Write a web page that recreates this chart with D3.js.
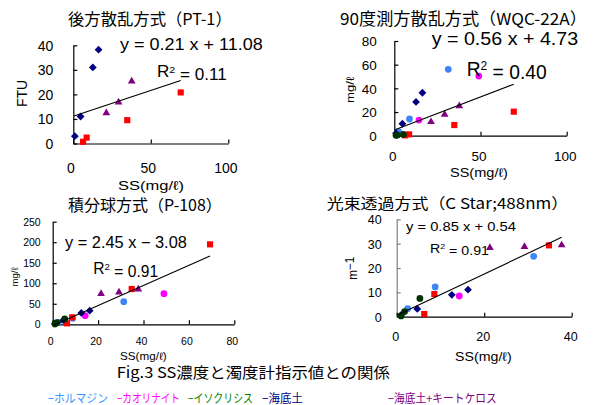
<!DOCTYPE html>
<html><head><meta charset="utf-8">
<script src="https://cdn.jsdelivr.net/npm/d3@7"></script>
<style>body{margin:0;background:#fff}svg{display:block}</style>
</head><body><svg id="c" width="596" height="405"></svg>
<script>
// ---------------- data ----------------
const panelTitles = ["後方散乱方式（PT-1）", "90度測方散乱方式（WQC-22A）", "積分球方式（P-108）", "光束透過方式（C Star;488nm）"];
const yAxisTitles = ["FTU", "mg/ℓ", "mg/ℓ", "m"];
const xAxisTitle = "SS(mg/ℓ)";
const xTickValues = [[0, 50, 100], [0, 50, 100], [0, 20, 40, 60, 80], [0, 20, 40]];
const yTickValues = [[0, 10, 20, 30, 40], [0, 20, 40, 60, 80], [0, 50, 100, 150, 200, 250], [0, 10, 20, 30, 40]];
const trendSlope = [0.21, 0.56, 2.45, 0.85];
const trendIntercept = [11.08, 4.73, -3.08, 0.54];
const trendEquations = ["y = 0.21 x + 11.08", "y = 0.56 x + 4.73", "y = 2.45 x − 3.08", "y = 0.85 x + 0.54"];
const rSquaredText = ["0.11", "0.40", "0.91", "0.91"];
const captionText = "Fig.3  SS濃度と濁度計指示値との関係";
const legendNames = ["ホルマジン", "カオリナイト", "イソクリシス", "海底土", "海底土+キートケロス"];

// SS concentration (x) of each sample, per series
const ssFormazin = [2.5, 8.8, 31.3];
const ssKaolin = [14.3, 49.0];
const ssIso = [1.0, 1.8, 5.3];
const ssSea = [1.0, 4.7, 12.6, 16.3];
const ssRed = [6.3, 8.6, 34.8, 69.3];
const ssSeaChaeto = [21.3, 29.2, 37.7];

// turbidity readings, per panel [PT-1, WQC-22A, P-108, C Star]
const formazinY = [[], [3.4, 14.1, 56.1], [4.9, 14.6, 55.2], [3.3, 12.2, 24.8]];
const kaolinY = [[], [13.2, 50.4], [21.1, 74.7], [8.5, null]];
const isoY = [[], [0.3, 0.5, 1.1], [1.0, 4.0, 13.0], [0.3, 2.1, 7.5]];
const seaY = [[3.0, 11.0, 31.0, 38.2], [2.0, 10.1, 28.5, 36.3], [1.5, 10.0, 27.6, 33.3], [0.7, 3.2, 9.0, 11.1]];
const redY = [[0.7, 2.4, 9.5, 20.8], [0.3, 1.1, 9.0, 20.3], [2.4, 17.0, 86.0, 194.8], [1.1, 9.3, 29.3, null]];
const seaChaetoY = [[12.6, 17.0, 25.6], [12.1, 18.3, 25.6], [75.5, 79.5, 86.7], [28.5, 28.9, 29.6]];

// ---------------- drawing ----------------
const svg = d3.select("#c");
const LAT = "'Liberation Sans', Arial, sans-serif";
const CJK = "'Noto Sans CJK JP', sans-serif";

const series = [
  {ss: ssFormazin, y: formazinY, shape: "circle", color: "#3d85f5"},
  {ss: ssKaolin, y: kaolinY, shape: "circle", color: "#ff00ff"},
  {ss: ssRed, y: redY, shape: "square", color: "#ff0000"},
  {ss: ssSea, y: seaY, shape: "diamond", color: "#000080"},
  {ss: ssSeaChaeto, y: seaChaetoY, shape: "triangle", color: "#800080"},
  {ss: ssIso, y: isoY, shape: "circle", color: "#003300"}
];
const legendColors = ["#3399ff", "#ff00ff", "#008000", "#000080", "#800080"];

const layout = [
  {x0: 73.3, x1: 228.3, yb: 143.5, yt: 45.3, tickFs: 14, yPad: 20, xPad: 25, xShift: -3,
   title: [68, 232, 19, 16.5], eq: [120, 263, 50, 16], r2: [157, 227, 77, 16],
   xl: [118, 184, 185.5, 13], yl: [22, 80, 107, 14], yAxisColor: "#000"},
  {x0: 394.3, x1: 566.7, yb: 135.7, yt: 41, tickFs: 13.5, yPad: 17.6, xPad: 21, xShift: -2,
   title: [340, 587, 19.3, 16.5], eq: [431.7, 578.3, 45, 18.5], r2: [466.7, 546.7, 76, 20],
   xl: [450, 508, 172, 12.5], yl: [350, 76.7, 103.3, 11], yAxisColor: "#000"},
  {x0: 52.7, x1: 234.3, yb: 324.3, yt: 221.7, tickFs: 10.5, yPad: 12, xPad: 16.7, xShift: -2.5,
   title: [68, 222, 205, 16], eq: [65, 187, 248, 16], r2: [93.3, 158.3, 274, 16],
   xl: [120, 166.7, 356.5, 10.5], yl: [15, 267, 287, 9.5], yAxisColor: "#000"},
  {x0: 396.7, x1: 571.7, yb: 316.7, yt: 219.3, tickFs: 12.5, yPad: 15, xPad: 20, xShift: -1.5,
   title: [326.7, 568.3, 204, 15], eq: [406, 516, 230.7, 13], r2: [430, 489, 252.7, 13],
   xl: [455, 511.7, 356.7, 12.5], yl: [353, 256.7, 280, 12], yAxisColor: "#808080"}
];

// fit text horizontally into [x0,x1], baseline y
function fitText(sel, x0, x1, baseline) {
  const w = sel.node().getBBox().width;
  sel.attr("x", 0).attr("y", 0).attr("text-anchor", "start")
     .attr("transform", `translate(${x0},${baseline}) scale(${(x1 - x0) / w},1)`);
}
function addText(s, fs, family, color) {
  return svg.append("text").attr("font-size", fs).attr("font-family", family).attr("fill", color || "#000").text(s);
}

function symbolPath(shape) {
  if (shape === "circle") return d3.symbol(d3.symbolCircle, 36)();
  if (shape === "square") return d3.symbol(d3.symbolSquare, 38)();
  if (shape === "triangle") return d3.symbol(d3.symbolTriangle, 26)();
  return null;
}

layout.forEach((L, p) => {
  const xDomMax = xTickValues[p][xTickValues[p].length - 1];
  const yDomMax = yTickValues[p][yTickValues[p].length - 1];
  const x = d3.scaleLinear().domain([0, xDomMax]).range([L.x0, L.x1]);
  const y = d3.scaleLinear().domain([0, yDomMax]).range([L.yb, L.yt]);

  // axes
  const gy = svg.append("g").attr("transform", `translate(${L.x0},0)`)
    .call(d3.axisLeft(y).tickValues(yTickValues[p]).tickSizeInner(-4).tickSizeOuter(0).tickPadding(L.yPad));
  gy.select(".domain").attr("stroke", L.yAxisColor).attr("stroke-width", 1.2);
  gy.selectAll(".tick line").attr("stroke", L.yAxisColor).attr("stroke-width", 1.2);
  gy.selectAll("text").attr("font-size", L.tickFs).attr("font-family", LAT).attr("fill", "#000").attr("dy", "0.35em");

  const gx = svg.append("g").attr("transform", `translate(0,${L.yb})`)
    .call(d3.axisBottom(x).tickValues(xTickValues[p]).tickSizeInner(-4).tickSizeOuter(0).tickPadding(0));
  gx.select(".domain").attr("stroke", "#000").attr("stroke-width", 1.2);
  gx.selectAll(".tick line").attr("stroke", "#000").attr("stroke-width", 1.2);
  gx.selectAll("text").attr("font-size", L.tickFs).attr("font-family", LAT).attr("fill", "#000")
    .attr("y", L.xPad).attr("x", L.xShift).attr("dy", "0.35em");

  // markers
  const clipId = "clip" + p;
  svg.append("clipPath").attr("id", clipId).append("rect")
    .attr("x", L.x0 - 6).attr("y", L.yt - 6).attr("width", L.x1 - L.x0 + 12).attr("height", L.yb - L.yt + 12);
  const mg = svg.append("g");
  let xsUsed = [];
  series.forEach(s => {
    const vals = s.y[p];
    vals.forEach((v, i) => {
      if (v === null || v === undefined) return;
      const xv = s.ss[i];
      xsUsed.push(xv);
      if (xv > xDomMax) return;
      const cx = x(xv), cy = y(v);
      if (s.shape === "diamond") {
        const r = 3.9;
        mg.append("path").attr("d", `M${cx},${cy - r}L${cx + r},${cy}L${cx},${cy + r}L${cx - r},${cy}Z`).attr("fill", s.color);
      } else {
        mg.append("path").attr("d", symbolPath(s.shape))
          .attr("transform", `translate(${cx},${cy + (s.shape === "triangle" ? 0.5 : 0)})`).attr("fill", s.color);
      }
    });
  });

  // trend line
  const tx0 = 0.4, tx1 = Math.min(d3.max(xsUsed), xDomMax);
  const f = v => trendSlope[p] * v + trendIntercept[p];
  svg.append("line").attr("clip-path", `url(#${clipId})`)
    .attr("x1", x(tx0)).attr("y1", y(f(tx0))).attr("x2", x(tx1)).attr("y2", y(f(tx1)))
    .attr("stroke", "#000").attr("stroke-width", 1.1);

  // title
  const t = addText(panelTitles[p], L.title[3], CJK);
  fitText(t, L.title[0], L.title[1], L.title[2] + L.title[3] * 0.36);

  // equation and R²
  const eq = addText(trendEquations[p], L.eq[3], LAT);
  fitText(eq, L.eq[0], L.eq[1], L.eq[2]);
  const r2 = svg.append("text").attr("font-size", L.r2[3]).attr("font-family", LAT).attr("fill", "#000");
  r2.append("tspan").text("R");
  r2.append("tspan").attr("dy", "-0.45em").attr("font-size", "0.62em").text("2");
  r2.append("tspan").attr("dy", "0.45em").text(" = " + rSquaredText[p]);
  fitText(r2, L.r2[0], L.r2[1], L.r2[2]);

  // x axis title
  const xt = addText(xAxisTitle, L.xl[3], LAT);
  fitText(xt, L.xl[0], L.xl[1], L.xl[2] + L.xl[3] * 0.36);

  // y axis title (rotated)
  const yt = svg.append("text").attr("font-size", L.yl[3]).attr("font-family", LAT).attr("fill", "#000")
    .attr("text-anchor", "middle");
  yt.append("tspan").text(yAxisTitles[p]);
  if (p === 3) yt.append("tspan").attr("dy", "-0.3em").text("−1");
  const w = yt.node().getBBox().width;
  const cy = (L.yl[1] + L.yl[2]) / 2;
  yt.attr("transform", `translate(${L.yl[0] + L.yl[3] * 0.36},${cy}) rotate(-90) scale(${(L.yl[2] - L.yl[1]) / w},1)`);
});

// caption
const cap = addText(captionText, 15, CJK);
fitText(cap, 116.7, 390, 372.5 + 15 * 0.36);

// legend
const legendPos = [[48, 108], [117, 180], [188, 253], [262, 303], [388, 497]];
legendNames.forEach((n, i) => {
  const lt = addText("−" + n, 12, CJK, legendColors[i]);
  fitText(lt, legendPos[i][0], legendPos[i][1], 398.3 + 12 * 0.36);
});
</script>
</body></html>
